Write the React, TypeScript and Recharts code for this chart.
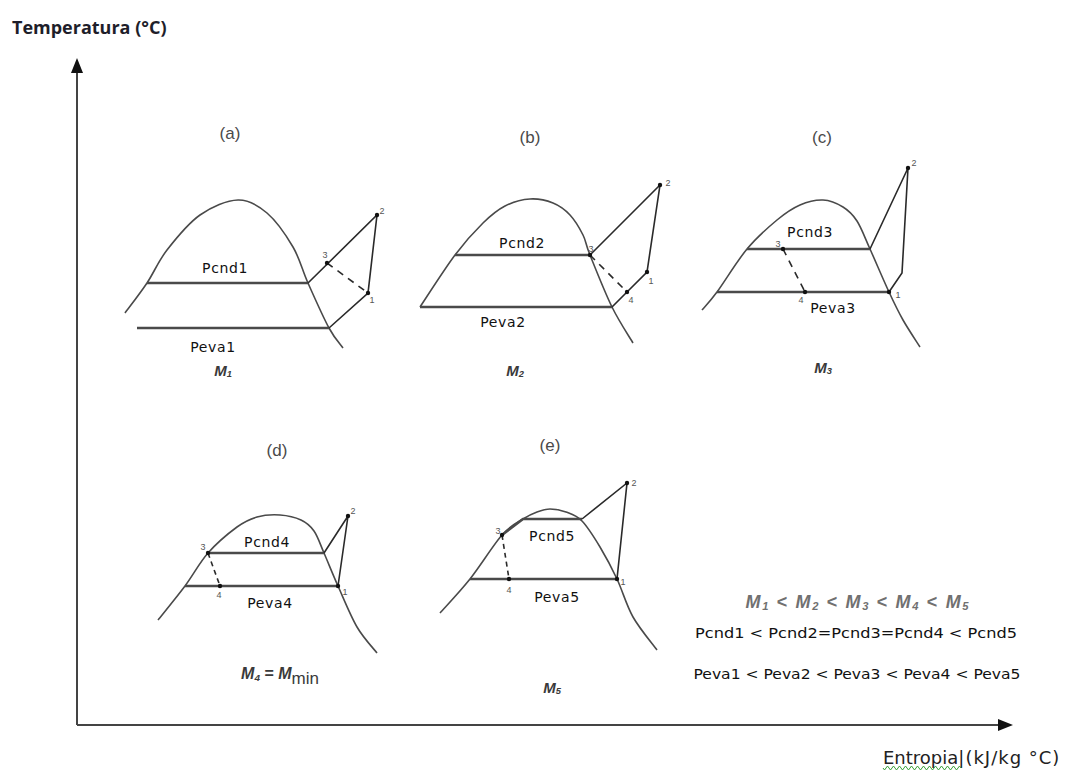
import React from 'react';
import { ComposedChart, Line, Scatter, XAxis, YAxis } from 'recharts';

// every value is (s = entropy, T = temperature) in the sketch's own units,
// origin at the corner of the two axes

// (a) M1
const domeA = [
  { s: 48, T: 412 }, { s: 70, T: 442 }, { s: 90, T: 475 }, { s: 123, T: 510 }, { s: 161, T: 525 },
  { s: 190, T: 512 }, { s: 216, T: 478 }, { s: 231, T: 442 }, { s: 252, T: 397 }, { s: 266, T: 377 },
];
const condA = [{ s: 70, T: 442 }, { s: 231, T: 442 }];
const evapA = [{ s: 60, T: 397 }, { s: 252, T: 397 }];
const cycleA = [{ s: 231, T: 442 }, { s: 300, T: 510 }, { s: 291, T: 432 }, { s: 252, T: 397 }];
const valveA = [{ s: 250, T: 462 }, { s: 291, T: 432 }];
const statesA = [{ s: 250, T: 462 }, { s: 300, T: 510 }, { s: 291, T: 432 }];

// (b) M2
const domeB = [
  { s: 343, T: 418 }, { s: 378, T: 470 }, { s: 406, T: 502 }, { s: 428, T: 519 }, { s: 453, T: 526 },
  { s: 476, T: 522 }, { s: 493, T: 510 }, { s: 506, T: 490 }, { s: 513, T: 470 }, { s: 535, T: 418 },
  { s: 556, T: 382 },
];
const condB = [{ s: 378, T: 470 }, { s: 513, T: 470 }];
const evapB = [{ s: 343, T: 418 }, { s: 535, T: 418 }];
const cycleB = [{ s: 513, T: 470 }, { s: 583, T: 540 }, { s: 570, T: 453 }, { s: 550, T: 433 }, { s: 535, T: 418 }];
const valveB = [{ s: 513, T: 470 }, { s: 550, T: 433 }];
const statesB = [{ s: 513, T: 470 }, { s: 583, T: 540 }, { s: 570, T: 453 }, { s: 550, T: 433 }];

// (c) M3
const domeC = [
  { s: 625, T: 415 }, { s: 640, T: 433 }, { s: 670, T: 476 }, { s: 700, T: 505 }, { s: 723, T: 520 },
  { s: 746, T: 525 }, { s: 766, T: 518 }, { s: 780, T: 504 }, { s: 793, T: 476 }, { s: 812, T: 433 },
  { s: 826, T: 405 }, { s: 843, T: 378 },
];
const condC = [{ s: 670, T: 476 }, { s: 793, T: 476 }];
const evapC = [{ s: 640, T: 433 }, { s: 812, T: 433 }];
const cycleC = [{ s: 793, T: 476 }, { s: 831, T: 557 }, { s: 825, T: 452 }, { s: 812, T: 433 }];
const valveC = [{ s: 706, T: 476 }, { s: 728, T: 433 }];
const statesC = [{ s: 706, T: 476 }, { s: 831, T: 557 }, { s: 812, T: 433 }, { s: 728, T: 433 }];

// (d) M4 = Mmin
const domeD = [
  { s: 81, T: 105 }, { s: 108, T: 139 }, { s: 131, T: 172 }, { s: 160, T: 198 }, { s: 180, T: 208 },
  { s: 203, T: 210 }, { s: 224, T: 205 }, { s: 237, T: 194 }, { s: 247, T: 172 }, { s: 261, T: 139 },
  { s: 280, T: 98 }, { s: 300, T: 72 },
];
const condD = [{ s: 131, T: 172 }, { s: 247, T: 172 }];
const evapD = [{ s: 108, T: 139 }, { s: 261, T: 139 }];
const cycleD = [{ s: 247, T: 172 }, { s: 271, T: 209 }, { s: 261, T: 139 }];
const valveD = [{ s: 131, T: 172 }, { s: 143, T: 139 }];
const statesD = [{ s: 131, T: 172 }, { s: 271, T: 209 }, { s: 261, T: 139 }, { s: 143, T: 139 }];

// (e) M5
const domeE = [
  { s: 363, T: 112 }, { s: 393, T: 146 }, { s: 425, T: 190 }, { s: 446, T: 206 }, { s: 460, T: 213 },
  { s: 473, T: 216 }, { s: 489, T: 213 }, { s: 505, T: 204 }, { s: 523, T: 178 }, { s: 540, T: 146 },
  { s: 556, T: 108 }, { s: 580, T: 75 },
];
const condE = [{ s: 425, T: 190 }, { s: 446, T: 206 }, { s: 505, T: 206 }];
const evapE = [{ s: 393, T: 146 }, { s: 540, T: 146 }];
const cycleE = [{ s: 505, T: 206 }, { s: 550, T: 242 }, { s: 540, T: 146 }];
const valveE = [{ s: 425, T: 190 }, { s: 432, T: 146 }];
const statesE = [{ s: 425, T: 190 }, { s: 550, T: 242 }, { s: 540, T: 146 }, { s: 432, T: 146 }];

const yAxisLine = [{ s: 0, T: 0 }, { s: 0, T: 655 }];
const xAxisLine = [{ s: 0, T: 0 }, { s: 924, T: 0 }];
const yArrow = [{ s: 0, T: 667 }];
const xArrow = [{ s: 936, T: 0 }];

const panelTitles = [
  { s: 153, T: 592, text: '(a)' }, { s: 453, T: 588, text: '(b)' }, { s: 745, T: 588, text: '(c)' },
  { s: 200, T: 275, text: '(d)' }, { s: 473, T: 280, text: '(e)' },
];
const pressureLabels = [
  { s: 148, T: 457, text: 'Pcnd1' }, { s: 136, T: 378, text: 'Peva1' },
  { s: 445, T: 482, text: 'Pcnd2' }, { s: 426, T: 403, text: 'Peva2' },
  { s: 733, T: 493, text: 'Pcnd3' }, { s: 756, T: 417, text: 'Peva3' },
  { s: 190, T: 183, text: 'Pcnd4' }, { s: 193, T: 122, text: 'Peva4' },
  { s: 475, T: 189, text: 'Pcnd5' }, { s: 480, T: 128, text: 'Peva5' },
];
const stateNumbers = [
  { s: 248, T: 470, text: '3' }, { s: 305, T: 514, text: '2' }, { s: 295, T: 425, text: '1' },
  { s: 514, T: 476, text: '3' }, { s: 591, T: 542, text: '2' }, { s: 574, T: 444, text: '1' }, { s: 554, T: 425, text: '4' },
  { s: 701, T: 481, text: '3' }, { s: 837, T: 562, text: '2' }, { s: 821, T: 430, text: '1' }, { s: 724, T: 425, text: '4' },
  { s: 126, T: 178, text: '3' }, { s: 276, T: 214, text: '2' }, { s: 268, T: 133, text: '1' }, { s: 142, T: 130, text: '4' },
  { s: 421, T: 194, text: '3' }, { s: 557, T: 242, text: '2' }, { s: 546, T: 143, text: '1' }, { s: 432, T: 135, text: '4' },
];
const massLabels = [
  { s: 146, T: 355, text: '1' }, { s: 438, T: 355, text: '2' }, { s: 746, T: 358, text: '3' },
  { s: 203, T: 52, text: '4' }, { s: 475, T: 38, text: '5' },
];
const summaryLines = [
  { s: 779, T: 92, text: 'Pcnd1 < Pcnd2=Pcnd3=Pcnd4 < Pcnd5', width: 322 },
  { s: 780, T: 51, text: 'Peva1 < Peva2 < Peva3 < Peva4 < Peva5', width: 327 },
];
const massOrder = [{ s: 780, T: 123, text: '1 2 3 4 5' }];
const yTitle = [{ s: -65, T: 698, text: 'Temperatura (°C)' }];
const xTitle = [{ s: 806, T: -32, text: 'Entropia' }];

const SANS = '"Liberation Sans", Arial, sans-serif';
const PIX = '"DejaVu Sans", Verdana, sans-serif';

const domeStyle = { stroke: '#4a4a4a', strokeWidth: 1.6 };
const pressStyle = { stroke: '#4a4a4a', strokeWidth: 2.6 };
const cycleStyle = { stroke: '#2a2a2a', strokeWidth: 1.6 };

// Catmull-Rom curve through the read points (less wobble than a natural spline)
const smoothCurve = (ctx: any) => {
  let pts: number[][] = [];
  return {
    areaStart() {},
    areaEnd() {},
    lineStart() { pts = []; },
    point(x: number, y: number) { pts.push([+x, +y]); },
    lineEnd() {
      if (!pts.length) return;
      ctx.moveTo(pts[0][0], pts[0][1]);
      for (let i = 0; i < pts.length - 1; i++) {
        const p0 = pts[i - 1] || pts[i];
        const p1 = pts[i];
        const p2 = pts[i + 1];
        const p3 = pts[i + 2] || p2;
        ctx.bezierCurveTo(
          p1[0] + (p2[0] - p0[0]) / 6, p1[1] + (p2[1] - p0[1]) / 6,
          p2[0] - (p3[0] - p1[0]) / 6, p2[1] - (p3[1] - p1[1]) / 6,
          p2[0], p2[1],
        );
      }
    },
  };
};

// "M" with a lowered index; the piece after it is raised back by the caller
const mass = (sub: string, key: string) => [
  <tspan key={`m${key}`} fontWeight="bold" fontStyle="italic">M</tspan>,
  <tspan key={`s${key}`} fontWeight="bold" fontStyle="italic" fontSize="0.62em" dy={4}>{sub}</tspan>,
];

export default function App() {
  const lines: [any[], any, string?][] = [
    [domeA, domeStyle], [condA, pressStyle], [evapA, pressStyle], [cycleA, cycleStyle], [valveA, cycleStyle, '7 6'],
    [domeB, domeStyle], [condB, pressStyle], [evapB, pressStyle], [cycleB, cycleStyle], [valveB, cycleStyle, '7 6'],
    [domeC, domeStyle], [condC, pressStyle], [evapC, pressStyle], [cycleC, cycleStyle], [valveC, cycleStyle, '7 6'],
    [domeD, domeStyle], [condD, pressStyle], [evapD, pressStyle], [cycleD, cycleStyle], [valveD, cycleStyle, '5 4'],
    [domeE, domeStyle], [condE, pressStyle], [evapE, pressStyle], [cycleE, cycleStyle], [valveE, cycleStyle, '5 4'],
  ];
  const states = [...statesA, ...statesB, ...statesC, ...statesD, ...statesE];

  return (
    <div style={{ position: 'absolute', left: 0, top: 0, width: 1066, height: 770, background: '#fff' }}>
      <ComposedChart width={1066} height={770} margin={{ top: 0, right: 0, bottom: 0, left: 0 }}>
        <XAxis type="number" dataKey="s" domain={[-77, 989]} allowDataOverflow hide />
        <YAxis type="number" dataKey="T" domain={[-45, 725]} allowDataOverflow hide />

        <Line data={yAxisLine} dataKey="T" stroke="#444" strokeWidth={2} dot={false} activeDot={false} isAnimationActive={false} />
        <Line data={xAxisLine} dataKey="T" stroke="#444" strokeWidth={2} dot={false} activeDot={false} isAnimationActive={false} />

        {lines.map(([d, st, dash], i) => (
          <Line
            key={i}
            data={d}
            dataKey="T"
            type={st === domeStyle ? (smoothCurve as any) : 'linear'}
            stroke={st.stroke}
            strokeWidth={st.strokeWidth}
            strokeDasharray={dash}
            dot={false}
            activeDot={false}
            isAnimationActive={false}
          />
        ))}

        <Scatter data={yArrow} dataKey="T" isAnimationActive={false}
          shape={(p: any) => <polygon points={`${p.cx},${p.cy} ${p.cx - 6},${p.cy + 15} ${p.cx + 6},${p.cy + 15}`} fill="#111" />} />
        <Scatter data={xArrow} dataKey="T" isAnimationActive={false}
          shape={(p: any) => <polygon points={`${p.cx},${p.cy} ${p.cx - 15},${p.cy - 6} ${p.cx - 15},${p.cy + 6}`} fill="#111" />} />

        <Scatter data={states} dataKey="T" isAnimationActive={false}
          shape={(p: any) => <circle cx={p.cx} cy={p.cy} r={2.2} fill="#111" />} />

        <Scatter data={panelTitles} dataKey="T" isAnimationActive={false}
          shape={(p: any) => (
            <text x={p.cx} y={p.cy} textAnchor="middle" dominantBaseline="central" fontFamily={SANS} fontSize={17} fill="#4a4a4a">
              {p.payload.text}
            </text>
          )} />

        <Scatter data={pressureLabels} dataKey="T" isAnimationActive={false}
          shape={(p: any) => (
            <text x={p.cx} y={p.cy} textAnchor="middle" dominantBaseline="central" fontFamily={PIX} fontSize={14} letterSpacing={0.6} fill="#111">
              {p.payload.text}
            </text>
          )} />

        <Scatter data={stateNumbers} dataKey="T" isAnimationActive={false}
          shape={(p: any) => (
            <text x={p.cx} y={p.cy} textAnchor="middle" dominantBaseline="central" fontFamily={SANS} fontSize={9} fill="#555">
              {p.payload.text}
            </text>
          )} />

        <Scatter data={massLabels} dataKey="T" isAnimationActive={false}
          shape={(p: any) => (
            <text x={p.cx} y={p.cy} textAnchor="middle" dominantBaseline="central" fontFamily={SANS} fontSize={p.payload.text === '4' ? 16 : 15} fill="#3a3a3a">
              {mass(p.payload.text, 'a')}
              {p.payload.text === '4' && [
                <tspan key="eq" fontWeight="bold" dy={-4}> = </tspan>,
                <tspan key="m2" fontWeight="bold" fontStyle="italic">M</tspan>,
                <tspan key="min" fontSize={17} dy={5}>min</tspan>,
              ]}
            </text>
          )} />

        <Scatter data={massOrder} dataKey="T" isAnimationActive={false}
          shape={(p: any) => (
            <text x={p.cx} y={p.cy} textAnchor="middle" dominantBaseline="central" fontFamily={SANS} fontSize={18}
              textLength={223} lengthAdjust="spacing" fill="#707070">
              {p.payload.text.split(' ').map((n: string, i: number) => [
                i > 0 ? <tspan key={`lt${i}`} fontWeight="bold" dy={-4}>{i === 1 ? ' <  ' : ' < '}</tspan> : null,
                ...mass(n, String(i)),
              ])}
            </text>
          )} />

        <Scatter data={summaryLines} dataKey="T" isAnimationActive={false}
          shape={(p: any) => (
            <text x={p.cx} y={p.cy} textAnchor="middle" dominantBaseline="central" fontFamily={PIX} fontSize={14}
              textLength={p.payload.width} lengthAdjust="spacingAndGlyphs" fill="#111">
              {p.payload.text}
            </text>
          )} />

        <Scatter data={yTitle} dataKey="T" isAnimationActive={false}
          shape={(p: any) => (
            <text x={p.cx} y={p.cy} dominantBaseline="central" fontFamily='"Open Sans", sans-serif' fontWeight="bold" fontSize={18} fill="#1e1e2a">
              {p.payload.text}
            </text>
          )} />

        <Scatter data={xTitle} dataKey="T" isAnimationActive={false}
          shape={(p: any) => {
            const w = 77;
            let wave = `M${p.cx},${p.cy + 11}`;
            for (let k = 0; k < w; k += 3) wave += ` l1.5,${k % 6 === 0 ? 2 : -2} l1.5,${k % 6 === 0 ? -2 : 2}`;
            return (
              <g>
                <text x={p.cx} y={p.cy} dominantBaseline="central" fontFamily={PIX} fontSize={18} fill="#222">
                  <tspan>{p.payload.text}</tspan>
                  <tspan letterSpacing={1}>|(kJ/kg °C)</tspan>
                </text>
                <path d={wave} stroke="#3aa13a" strokeWidth={1} fill="none" />
              </g>
            );
          }} />
      </ComposedChart>
    </div>
  );
}
